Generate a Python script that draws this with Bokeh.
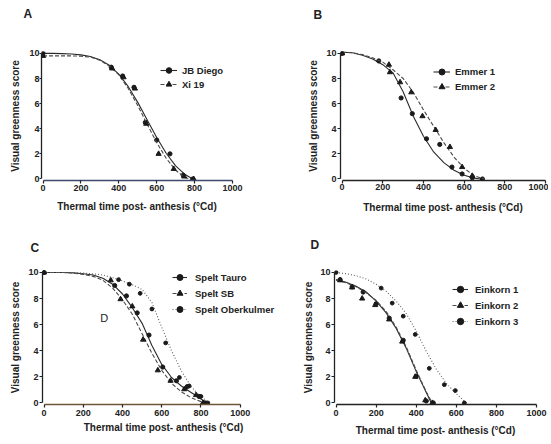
from bokeh.plotting import figure
from bokeh.models import Range1d, Legend, LegendItem, Label, FixedTicker, Title
from bokeh.layouts import column, row
from bokeh.embed import file_html
from bokeh.resources import INLINE

FONT = "Liberation Sans"

x_ticks = [0, 200, 400, 600, 800, 1000]
y_ticks = [0, 2, 4, 6, 8, 10]
x_title = "Thermal time post- anthesis (\u00b0Cd)"
y_title = "Visual greenness score"

# ---------------- Panel A ----------------
jb_x = [0, 360, 420, 480, 540, 600, 670, 740, 790]
jb_y = [10.0, 8.9, 8.2, 7.3, 4.5, 3.1, 2.0, 0.3, 0.0]
xi_x = [0, 365, 425, 485, 545, 610, 690, 745, 795]
xi_y = [9.8, 8.8, 8.1, 7.2, 4.4, 2.0, 0.8, 0.2, 0.0]
jb_fit_x = [0, 50, 100, 150, 200, 250, 300, 350, 400, 450, 500, 550, 600, 650, 700, 750, 790]
jb_fit_y = [10.0, 10.0, 9.98, 9.95, 9.88, 9.75, 9.5, 9.05, 8.35, 7.35, 6.1, 4.7, 3.3, 2.05, 1.05, 0.35, 0.0]
xi_fit_x = [0, 50, 100, 150, 200, 250, 300, 350, 400, 450, 500, 550, 600, 650, 700, 750, 780]
xi_fit_y = [9.8, 9.8, 9.8, 9.8, 9.78, 9.7, 9.45, 9.0, 8.3, 7.2, 5.85, 4.35, 2.9, 1.65, 0.7, 0.1, 0.0]

# ---------------- Panel B ----------------
e1_x = [0, 180, 290, 345, 415, 480, 540, 590, 640, 690]
e1_y = [10.0, 9.4, 6.45, 5.2, 3.2, 2.75, 0.95, 0.4, 0.1, 0.0]
e2_x = [0, 230, 235, 285, 340, 395, 460, 530, 590, 640]
e2_y = [10.0, 9.1, 8.5, 7.7, 6.9, 5.0, 3.9, 2.55, 0.95, 0.25]
e1_fit_x = [0, 50, 100, 150, 200, 250, 300, 350, 400, 450, 500, 550, 600, 650, 680]
e1_fit_y = [10.1, 10.05, 9.85, 9.55, 9.1, 8.45, 6.95, 5.0, 3.4, 2.15, 1.3, 0.7, 0.3, 0.07, 0.0]
e2_fit_x = [0, 50, 100, 150, 200, 250, 300, 350, 400, 450, 500, 550, 600, 650, 700]
e2_fit_y = [10.1, 10.05, 9.9, 9.65, 9.3, 8.7, 8.0, 6.9, 5.5, 4.2, 2.9, 1.75, 0.85, 0.25, 0.0]

# ---------------- Panel C ----------------
tauro_x = [0, 360, 420, 475, 535, 605, 675, 730, 790, 820]
tauro_y = [10.0, 9.0, 8.2, 6.9, 5.2, 2.75, 1.7, 1.25, 0.5, 0.0]
sb_x = [0, 340, 390, 450, 505, 580, 645, 715, 775, 810]
sb_y = [10.0, 9.4, 7.95, 7.4, 4.85, 2.5, 1.7, 1.05, 0.6, 0.0]
ober_x = [0, 380, 435, 490, 550, 620, 690, 740, 800, 835]
ober_y = [10.0, 9.45, 9.1, 8.4, 7.2, 4.6, 1.95, 1.3, 0.5, 0.0]
tauro_fit_x = [0, 50, 100, 150, 200, 250, 300, 350, 400, 450, 500, 550, 600, 650, 700, 750, 800, 830]
tauro_fit_y = [10.0, 10.0, 10.0, 9.97, 9.9, 9.8, 9.55, 9.1, 8.35, 7.3, 6.1, 4.4, 2.95, 1.95, 1.3, 0.8, 0.3, 0.0]
sb_fit_x = [0, 50, 100, 150, 200, 250, 300, 350, 400, 450, 500, 550, 600, 650, 700, 750, 800, 820]
sb_fit_y = [10.0, 10.0, 10.0, 9.95, 9.85, 9.7, 9.4, 8.8, 7.9, 6.8, 5.3, 3.8, 2.5, 1.5, 0.85, 0.4, 0.1, 0.0]
ober_fit_x = [0, 50, 100, 150, 200, 250, 300, 350, 400, 450, 500, 550, 600, 650, 700, 750, 800, 845]
ober_fit_y = [10.0, 10.0, 10.0, 10.0, 9.95, 9.9, 9.8, 9.6, 9.35, 9.05, 8.7, 7.7, 5.8, 4.0, 2.45, 1.25, 0.45, 0.0]

# ---------------- Panel D ----------------
ek1_x = [20, 80, 135, 200, 265, 335, 400, 450, 485]
ek1_y = [9.45, 8.9, 8.5, 7.6, 6.5, 4.8, 2.05, 0.15, 0.0]
ek2_x = [20, 80, 130, 195, 265, 330, 395, 445, 480]
ek2_y = [9.4, 8.85, 8.0, 7.5, 6.4, 4.7, 2.0, 0.2, 0.0]
ek3_x = [0, 225, 280, 335, 395, 465, 540, 595, 640]
ek3_y = [10.0, 8.8, 7.65, 6.65, 5.25, 2.65, 1.4, 0.95, 0.0]
ek1_fit_x = [0, 50, 100, 150, 200, 250, 300, 350, 400, 450, 475]
ek1_fit_y = [9.45, 9.25, 8.95, 8.5, 7.8, 6.9, 5.7, 4.2, 2.4, 0.8, 0.0]
ek2_fit_x = [0, 50, 100, 150, 200, 250, 300, 350, 400, 450, 480]
ek2_fit_y = [9.4, 9.2, 8.9, 8.45, 7.85, 7.0, 5.8, 4.3, 2.5, 0.85, 0.0]
ek3_fit_x = [0, 50, 100, 150, 200, 250, 300, 350, 400, 450, 500, 550, 600, 650]
ek3_fit_y = [10.0, 9.9, 9.75, 9.5, 9.1, 8.55, 7.8, 6.85, 5.5, 3.95, 2.6, 1.5, 0.7, 0.0]

STYLES = [
    dict(color="#2b2b2b", dash="solid", marker="circle", size=4.2),
    dict(color="#4a4a4a", dash="4 2", marker="triangle", size=5.2),
    dict(color="#606060", dash="1 2", marker="circle", size=3.8),
]


def panel(letter, letter_cfg, width, height, borders, x_end, series, legend_cfg,
          xaxis_color="#222222", ylab_standoff=5, ytick_standoff=1,
          xlab_standoff=5, xtick_standoff=1, ytick_out=3):
    left, right, top, bottom = borders
    l_offset, spacer = letter_cfg
    p = figure(width=width, height=height, output_backend="svg",
               toolbar_location=None,
               x_range=Range1d(-8, x_end), y_range=Range1d(-0.12, 10.15),
               min_border_left=left, min_border_right=right,
               min_border_top=top, min_border_bottom=bottom)
    p.outline_line_color = None
    p.xgrid.visible = False
    p.ygrid.visible = False
    p.background_fill_color = "white"
    p.border_fill_color = "white"

    # panel letter: an invisible spacer title next to the frame, then the letter
    p.add_layout(Title(text=" ", standoff=spacer, text_font=FONT,
                       text_font_size="1px", text_color="white"), "above")
    p.add_layout(Title(text=letter, align="left", offset=l_offset, standoff=0,
                       vertical_align="top", text_font=FONT,
                       text_font_size="12px", text_font_style="bold",
                       text_color="#222222"), "above")

    for ax, ticks in ((p.xaxis[0], x_ticks), (p.yaxis[0], y_ticks)):
        ax.ticker = FixedTicker(ticks=ticks)
        ax.axis_line_width = 1.3
        ax.major_tick_line_width = 1.2
        ax.major_tick_out = 3
        ax.major_tick_in = 0
        ax.minor_tick_line_color = None
        ax.major_label_text_font = FONT
        ax.major_label_text_font_size = "9px"
        ax.major_label_text_font_style = "bold"
        ax.major_label_text_color = "#222222"
        ax.axis_label_text_font = FONT
        ax.axis_label_text_font_size = "10px"
        ax.axis_label_text_font_style = "bold"
        ax.axis_label_text_color = "#222222"
        ax.major_tick_line_color = "#222222"
    p.yaxis[0].major_tick_out = ytick_out
    p.xaxis[0].bounds = (0, 1000)
    p.yaxis[0].bounds = (0, 10)
    p.xaxis[0].axis_line_color = xaxis_color
    p.yaxis[0].axis_line_color = "#222222"
    p.xaxis[0].axis_label = x_title
    p.yaxis[0].axis_label = y_title
    p.xaxis[0].axis_label_standoff = xlab_standoff
    p.xaxis[0].major_label_standoff = xtick_standoff
    p.yaxis[0].axis_label_standoff = ylab_standoff
    p.yaxis[0].major_label_standoff = ytick_standoff

    items = []
    for i, (name, px, py, fx, fy) in enumerate(series):
        st = STYLES[i]
        lr = p.line(fx, fy, line_color=st["color"], line_width=1.1,
                    line_dash=st["dash"])
        sr = p.scatter(px, py, marker=st["marker"], size=st["size"],
                       fill_color="#1a1a1a", line_color="#1a1a1a")
        items.append(LegendItem(label=name, renderers=[lr, sr]))

    vx, vy, row_h, gw, standoff = legend_cfg
    leg = Legend(items=items, location=(vx, vy), margin=0, padding=0,
                 spacing=0, glyph_width=gw, glyph_height=row_h,
                 label_height=row_h, label_standoff=standoff,
                 label_text_font=FONT, label_text_font_size="9.5px",
                 label_text_font_style="bold", label_text_color="#222222",
                 border_line_alpha=0, background_fill_alpha=0)
    p.add_layout(leg)
    return p


pA = panel("A", (-18, 26), 270, 220, (41, 38, 50, 40), 1000,
           [("JB Diego", jb_x, jb_y, jb_fit_x, jb_fit_y),
            ("Xi 19", xi_x, xi_y, xi_fit_x, xi_fit_y)],
           (119, 89, 14, 17, 5), xaxis_color="#3d4a6e",
           ylab_standoff=5, ytick_standoff=0, ytick_out=2,
           xlab_standoff=7, xtick_standoff=1)

pB = panel("B", (-27, 25), 278, 220, (70, 3, 51, 39), 1000,
           [("Emmer 1", e1_x, e1_y, e1_fit_x, e1_fit_y),
            ("Emmer 2", e2_x, e2_y, e2_fit_x, e2_fit_y)],
           (93, 86, 15, 17, 5),
           ylab_standoff=4, ytick_standoff=1,
           xlab_standoff=9, xtick_standoff=0)

pC = panel("C", (-12, 11), 284, 222, (42, 0, 47, 38), 1226,
           [("Spelt Tauro", tauro_x, tauro_y, tauro_fit_x, tauro_fit_y),
            ("Spelt SB", sb_x, sb_y, sb_fit_x, sb_fit_y),
            ("Spelt Oberkulmer", ober_x, ober_y, ober_fit_x, ober_fit_y)],
           (130, 87, 16, 15, 8), xaxis_color="#6e5538",
           ylab_standoff=4, ytick_standoff=1,
           xlab_standoff=3, xtick_standoff=2)
pC.add_layout(Label(x=307, y=6.5, text="D", text_font=FONT,
                    text_font_size="11px", text_color="#222222",
                    text_align="center", text_baseline="middle"))

pD = panel("D", (-24, 14), 264, 222, (50, 12, 50, 35), 1000,
           [("Einkorn 1", ek1_x, ek1_y, ek1_fit_x, ek1_fit_y),
            ("Einkorn 2", ek2_x, ek2_y, ek2_fit_x, ek2_fit_y),
            ("Einkorn 3", ek3_x, ek3_y, ek3_fit_x, ek3_fit_y)],
           (118, 75, 16, 16, 7),
           ylab_standoff=3, ytick_standoff=1,
           xlab_standoff=6, xtick_standoff=2)

layout = column(row(pA, pB), row(pC, pD))
open("out.html", "w").write(file_html(layout, INLINE))
